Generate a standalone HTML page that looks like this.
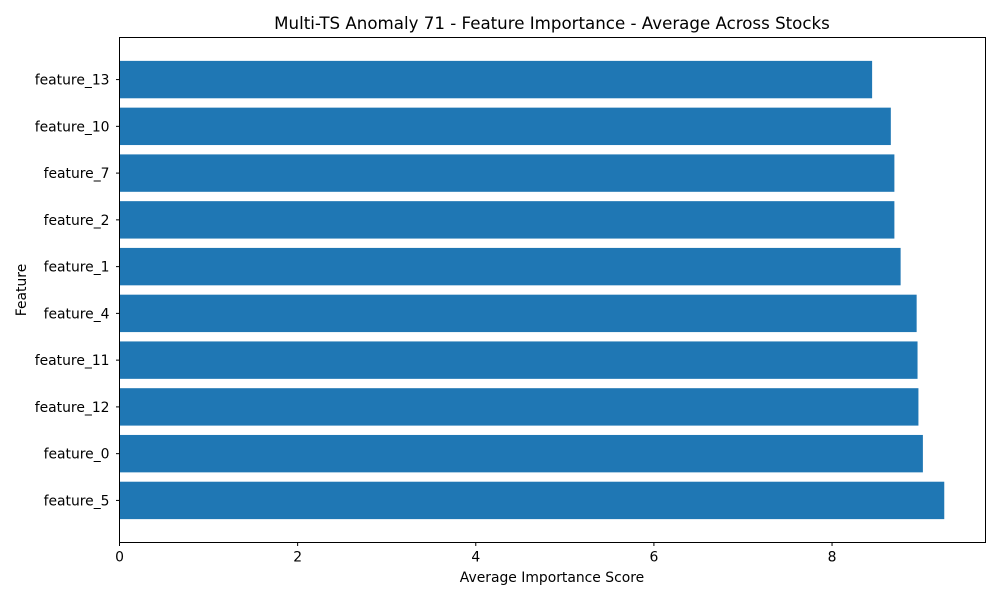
<!DOCTYPE html>
<html><head><meta charset="utf-8">
<style>
body{margin:0;background:#fff;font-family:"Liberation Sans","DejaVu Sans",sans-serif;}
svg text{font-family:"DejaVu Sans","Liberation Sans",sans-serif;}
</style></head>
<body>
<svg id="chart" width="1000" height="600" viewBox="0 0 1000 600">
<rect width="1000" height="600" fill="#fff"/>
<text x="552" y="29" text-anchor="middle" font-size="16.67" fill="#000">Multi-TS Anomaly 71 - Feature Importance - Average Across Stocks</text>
<g id="bars"></g>
<g id="xticks"></g>
<g id="yticks"></g>
<rect x="119.5" y="37.5" width="866" height="505" fill="none" stroke="#000" stroke-width="1"/>
<text x="552" y="582" text-anchor="middle" font-size="13.9">Average Importance Score</text>
<text transform="translate(26,290) rotate(-90)" text-anchor="middle" font-size="13.9">Feature</text>
</svg>
<script>
const categories = ["feature_5","feature_0","feature_12","feature_11","feature_4","feature_1","feature_2","feature_7","feature_10","feature_13"];
const values = [9.26,9.02,8.97,8.96,8.95,8.77,8.70,8.70,8.66,8.45];
const xTickValues = [0,2,4,6,8];
const xTickLabels = ["0","2","4","6","8"];

const L=119.5,R=985.5,T=37.5,B=542.5;
const xMax = Math.max(...values)*1.05;
const x = v => L + v/xMax*(R-L);
const yMin=-0.9, yMax=categories.length-1+0.9;
const y = i => B - (i-yMin)/(yMax-yMin)*(B-T);
const ns="http://www.w3.org/2000/svg";
const bars=document.getElementById('bars'), xt=document.getElementById('xticks'), yt=document.getElementById('yticks');
const bh = 0.8*(B-T)/(yMax-yMin);
categories.forEach((c,i)=>{
  const r=document.createElementNS(ns,'rect');
  r.setAttribute('x',x(0)); r.setAttribute('y',y(i)-bh/2);
  r.setAttribute('width',x(values[i])-x(0)); r.setAttribute('height',bh);
  r.setAttribute('fill','#1f77b4');
  
  
  bars.appendChild(r);
  const tk=document.createElementNS(ns,'line');
  tk.setAttribute('x1',L-3.5); tk.setAttribute('x2',L); tk.setAttribute('y1',y(i)); tk.setAttribute('y2',y(i));
  tk.setAttribute('stroke','#000');
  
  
  yt.appendChild(tk);
  const t=document.createElementNS(ns,'text');
  t.setAttribute('x',L-10); t.setAttribute('y',y(i)+5); t.setAttribute('text-anchor','end'); t.setAttribute('font-size','13.9');
  t.textContent=c;
  
  
  yt.appendChild(t);
});
xTickValues.forEach((v,i)=>{
  const tk=document.createElementNS(ns,'line');
  tk.setAttribute('x1',x(v)); tk.setAttribute('x2',x(v)); tk.setAttribute('y1',B); tk.setAttribute('y2',B+3.5);
  tk.setAttribute('stroke','#000');
  
  
  xt.appendChild(tk);
  const t=document.createElementNS(ns,'text');
  t.setAttribute('x',x(v)); t.setAttribute('y',B+19); t.setAttribute('text-anchor','middle'); t.setAttribute('font-size','13.9');
  t.textContent=xTickLabels[i];
  
  
  xt.appendChild(t);
});
</script>
</body></html>
